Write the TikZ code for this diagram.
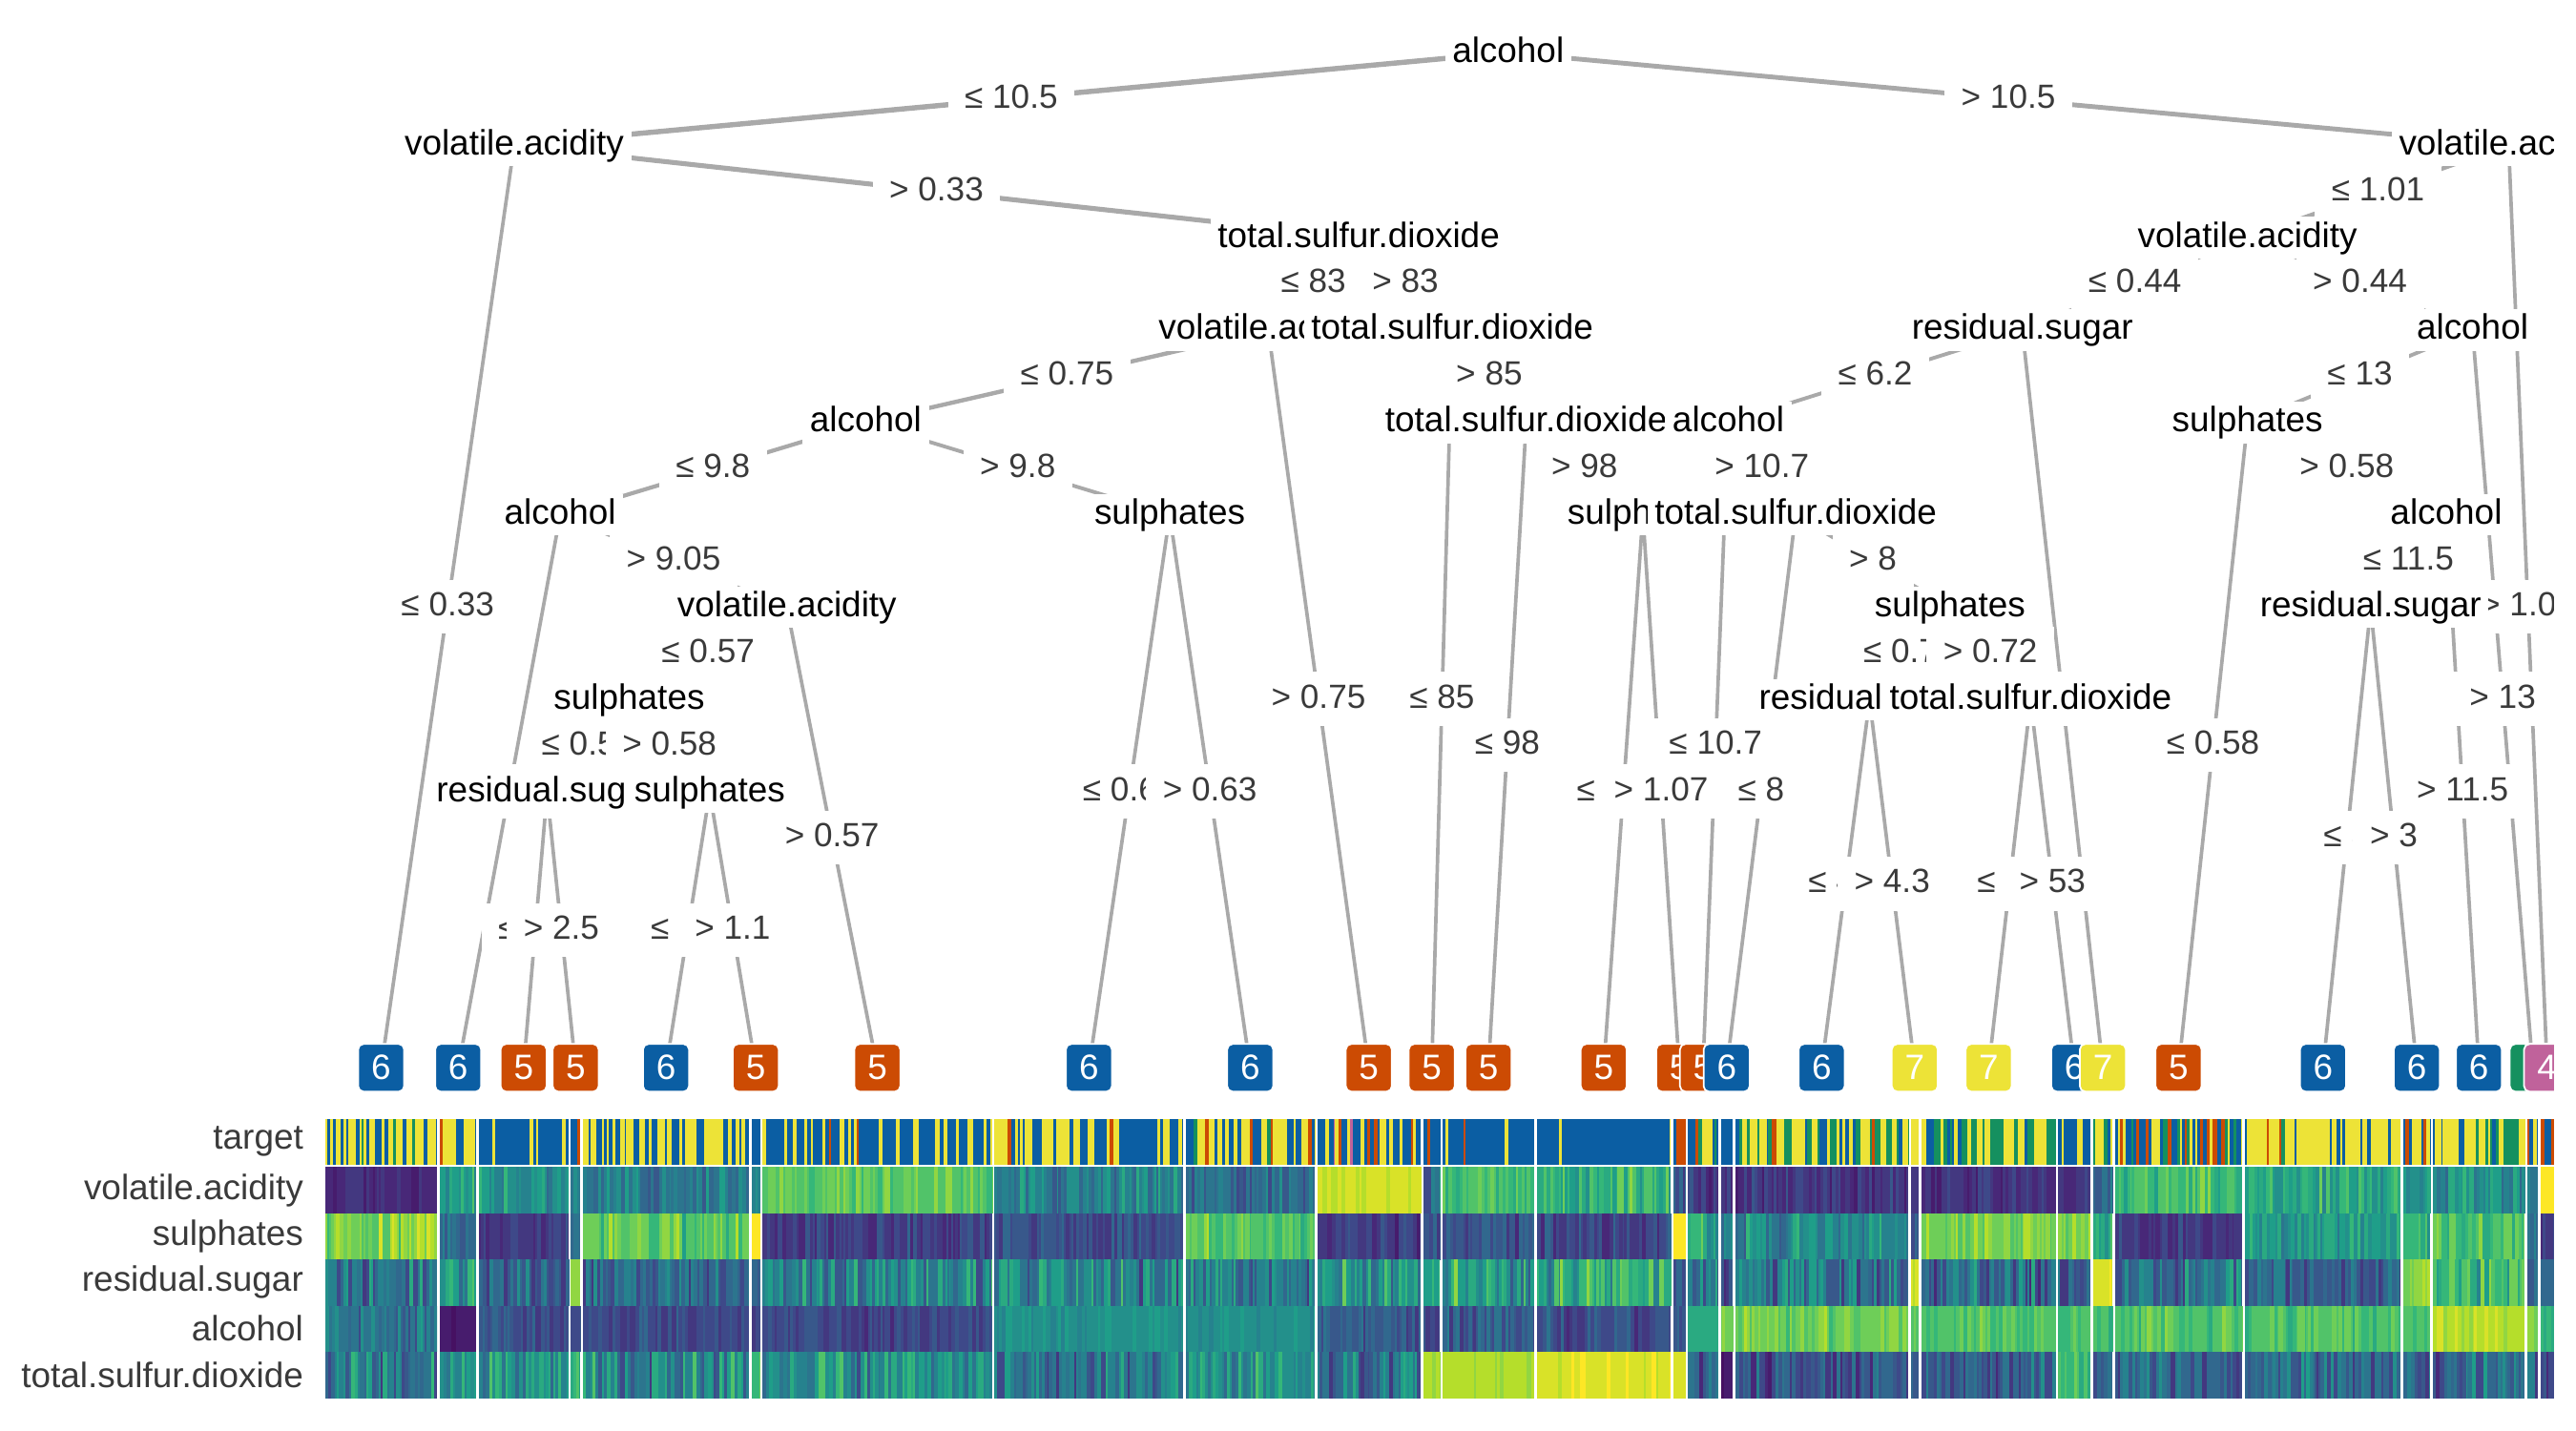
\documentclass[tikz,border=0pt]{standalone}
\usepackage{fontspec}
\setmainfont{Liberation Sans}
\pgfdeclarelayer{edges}
\pgfdeclarelayer{labels}
\pgfsetlayers{edges,labels,main}
\definecolor{edgegray}{HTML}{A9A9A9}
\definecolor{labgray}{HTML}{3A3A3A}
\definecolor{cB}{HTML}{0B5EA3}
\definecolor{cO}{HTML}{CC4B03}
\definecolor{cY}{HTML}{EDE337}
\definecolor{cG}{HTML}{15905F}
\definecolor{cP}{HTML}{C0629B}
\colorlet{tc0}{cB}\colorlet{tc1}{cY}\colorlet{tc2}{cG}\colorlet{tc3}{cO}\colorlet{tc4}{cP}
\definecolor{va0}{HTML}{440154}
\definecolor{va1}{HTML}{482878}
\definecolor{va2}{HTML}{3E4989}
\definecolor{va3}{HTML}{31688E}
\definecolor{va4}{HTML}{26828E}
\definecolor{va5}{HTML}{1F9E89}
\definecolor{va6}{HTML}{35B779}
\definecolor{va7}{HTML}{6ECE58}
\definecolor{va8}{HTML}{B5DE2B}
\definecolor{va9}{HTML}{FDE725}
\colorlet{vir0}{va0!60!va1}\colorlet{vir1}{va0!30!va1}\colorlet{vir2}{va1}\colorlet{vir3}{va1!50!va2}
\colorlet{vir4}{va2}\colorlet{vir5}{va2!50!va3}\colorlet{vir6}{va3}\colorlet{vir7}{va3!50!va4}
\colorlet{vir8}{va4}\colorlet{vir9}{va4!50!va5}\colorlet{vir10}{va5}\colorlet{vir11}{va5!50!va6}
\colorlet{vir12}{va6}\colorlet{vir13}{va6!50!va7}\colorlet{vir14}{va7}\colorlet{vir15}{va7!50!va8}
\colorlet{vir16}{va8}\colorlet{vir17}{va8!50!va9}\colorlet{vir18}{va9}
\tikzset{
  tn/.style={fill=white, inner xsep=2.2pt, inner ysep=1.2pt, text height=7.8pt, text depth=2.1pt,
    font=\fontsize{10.5}{12}\selectfont, text=black},
  el/.style={fill=white, inner xsep=5pt, inner ysep=3.3pt, text height=7.4pt, text depth=2pt,
    font=\fontsize{10}{11}\selectfont, text=labgray},
  leaf/.style={fill=#1, draw=white, line width=0.5pt, rounded corners=1.6pt, minimum width=0.482cm,
    minimum height=0.499cm, inner sep=0pt, text=white, font=\fontsize{10.5}{12}\selectfont},
  ed/.style={draw=edgegray, line width=#1pt},
  rowlab/.style={anchor=east, text=labgray, font=\fontsize{10.5}{12}\selectfont, inner sep=0pt}
}
\newcommand\hseg[2]{\pgfmathsetmacro\sx{#1+0.8}\pgfmathsetmacro\sy{#2-0.8}}
\newcommand\feat[3]{%
  \let\hx\sx
  \loop
    \pgfmathsetmacro\hw{1.0+1.6*rnd}%
    \pgfmathsetmacro\hn{min(\hx+\hw,\sy)}%
    \pgfmathsetmacro\hv{#2+#3*(rnd+rnd-1)}%
    \pgfmathtruncatemacro\hi{max(0,min(18,round(18*\hv)))}%
    \pgfmathsetmacro\hnn{min(\hn+0.45,\sy)}%
    \fill[fill=vir\hi] (\hx,#1) rectangle (\hnn,#1+28.3);%
    \let\hx\hn
  \ifdim\hx pt<\sy pt\repeat}
\newcommand\tgt[4]{%
  \let\hx\sx
  \loop
    \pgfmathsetmacro\hw{1.0+1.6*rnd}%
    \pgfmathsetmacro\hn{min(\hx+\hw,\sy)}%
    \pgfmathsetmacro\hr{rnd}%
    \pgfmathtruncatemacro\hi{(\hr>#1)+(\hr>#2)+(\hr>#3)+(\hr>#4)}%
    \pgfmathsetmacro\hnn{min(\hn+0.45,\sy)}%
    \fill[fill=tc\hi] (\hx,681) rectangle (\hnn,709);%
    \let\hx\hn
  \ifdim\hx pt<\sy pt\repeat}
\begin{document}
\begin{tikzpicture}[x=0.017219cm, y=-0.017219cm]
\pgfmathsetseed{4242}
\useasboundingbox (0,0) rectangle (1568,871.1);
\begin{scope}
\clip (0,0) rectangle (1554.5,871.1);
% ---------- internal nodes ----------
\node[tn] (N0) at (918,32) {alcohol};
\node[tn] (N1) at (313,88.3) {volatile.acidity};
\node[tn] (N2) at (827,144.6) {total.sulfur.dioxide};
\node[tn] (N3) at (772,200.9) {volatile.acidity};
\node[tn] (N4) at (884,200.9) {total.sulfur.dioxide};
\node[tn] (N5) at (527,257.2) {alcohol};
\node[tn] (N6) at (341,313.5) {alcohol};
\node[tn] (N7) at (479,369.8) {volatile.acidity};
\node[tn] (N8) at (383,426.1) {sulphates};
\node[tn] (N9) at (333,482.4) {residual.sugar};
\node[tn] (N10) at (432,482.4) {sulphates};
\node[tn] (N11) at (712,313.5) {sulphates};
\node[tn] (N12) at (929,257.2) {total.sulfur.dioxide};
\node[tn] (N13) at (1000,313.5) {sulphates};
\node[tn] (R1) at (1527,88.3) {volatile.acidity};
\node[tn] (R2) at (1368,144.6) {volatile.acidity};
\node[tn] (R3) at (1231,200.9) {residual.sugar};
\node[tn] (R4) at (1505,200.9) {alcohol};
\node[tn] (R5) at (1052,257.2) {alcohol};
\node[tn] (R6) at (1093,313.5) {total.sulfur.dioxide};
\node[tn] (R7) at (1187,369.8) {sulphates};
\node[tn] (R8) at (1138,426.1) {residual.sugar};
\node[tn] (R9) at (1236,426.1) {total.sulfur.dioxide};
\node[tn] (R10) at (1368,257.2) {sulphates};
\node[tn] (R11) at (1489,313.5) {alcohol};
\node[tn] (R12) at (1443,369.8) {residual.sugar};
% ---------- leaves ----------
\node[leaf=cB] (L1) at (232,650) {6};
\node[leaf=cB] (L2) at (278.9,650) {6};
\node[leaf=cO] (L3) at (318.7,650) {5};
\node[leaf=cO] (L4) at (350.4,650) {5};
\node[leaf=cB] (L5) at (405.4,650) {6};
\node[leaf=cO] (L6) at (460,650) {5};
\node[leaf=cO] (L7) at (534,650) {5};
\node[leaf=cB] (L8) at (662.8,650) {6};
\node[leaf=cB] (L9) at (761,650) {6};
\node[leaf=cO] (L10) at (833.2,650) {5};
\node[leaf=cO] (L11) at (871.5,650) {5};
\node[leaf=cO] (L12) at (906,650) {5};
\node[leaf=cO] (L13) at (976.2,650) {5};
\node[leaf=cO] (L14) at (1022.2,650) {5};
\node[leaf=cO] (L15) at (1036.6,650) {5};
\node[leaf=cB] (L16) at (1051,650) {6};
\node[leaf=cB] (L17) at (1108.8,650) {6};
\node[leaf=cY] (L18) at (1165.5,650) {7};
\node[leaf=cY] (L19) at (1210.5,650) {7};
\node[leaf=cB] (L20) at (1262.6,650) {6};
\node[leaf=cY] (L21) at (1280,650) {7};
\node[leaf=cO] (L22) at (1326.1,650) {5};
\node[leaf=cB] (L23) at (1414,650) {6};
\node[leaf=cB] (L24) at (1471.1,650) {6};
\node[leaf=cB] (L25) at (1508.9,650) {6};
\node[leaf=cG] (L26) at (1541.7,650) {};
\node[leaf=cP] (L27) at (1550.4,650) {4};
% ---------- heatmap ----------
\hseg{197}{267}\tgt{0.30}{0.85}{1}{1}
 \feat{710.5}{.12}{.07}\feat{738.6}{.8}{.18}\feat{766.7}{.4}{.3}\feat{794.8}{.38}{.18}\feat{822.9}{.4}{.3}
\hseg{267}{290.7}\tgt{0.30}{0.90}{0.90}{0.95}
 \feat{710.5}{.55}{.2}\feat{738.6}{.35}{.15}\feat{766.7}{.6}{.3}\feat{794.8}{.05}{.03}\feat{822.9}{.5}{.18}
\hseg{290.7}{346.7}\tgt{0.85}{1}{1}{1}
 \feat{710.5}{.5}{.18}\feat{738.6}{.17}{.1}\feat{766.7}{.3}{.22}\feat{794.8}{.25}{.12}\feat{822.9}{.55}{.28}
\hseg{346.7}{354}\tgt{0.70}{0.85}{0.85}{1}
 \feat{710.5}{.45}{.1}\feat{738.6}{.35}{.1}\feat{766.7}{.85}{.1}\feat{794.8}{.2}{.08}\feat{822.9}{.6}{.15}
\hseg{354}{456.7}\tgt{0.45}{1}{1}{1}
 \feat{710.5}{.4}{.2}\feat{738.6}{.75}{.18}\feat{766.7}{.35}{.25}\feat{794.8}{.22}{.12}\feat{822.9}{.45}{.3}
\hseg{456.7}{463.4}\tgt{0.60}{0.60}{0.60}{1}
 \feat{710.5}{.45}{.1}\feat{738.6}{.98}{.02}\feat{766.7}{.3}{.15}\feat{794.8}{.2}{.08}\feat{822.9}{.7}{.15}
\hseg{463.4}{604.6}\tgt{0.72}{0.96}{0.96}{1}
 \feat{710.5}{.75}{.12}\feat{738.6}{.2}{.14}\feat{766.7}{.45}{.3}\feat{794.8}{.22}{.1}\feat{822.9}{.5}{.28}
\hseg{604.6}{721}\tgt{0.55}{0.95}{0.95}{1}
 \feat{710.5}{.45}{.2}\feat{738.6}{.25}{.12}\feat{766.7}{.45}{.3}\feat{794.8}{.5}{.07}\feat{822.9}{.4}{.25}
\hseg{721}{801}\tgt{0.35}{0.87}{0.97}{1}
 \feat{710.5}{.35}{.2}\feat{738.6}{.75}{.15}\feat{766.7}{.4}{.3}\feat{794.8}{.5}{.06}\feat{822.9}{.5}{.25}
\hseg{801}{865.5}\tgt{0.62}{0.77}{0.77}{0.95}
 \feat{710.5}{.93}{.05}\feat{738.6}{.18}{.12}\feat{766.7}{.5}{.3}\feat{794.8}{.3}{.15}\feat{822.9}{.4}{.3}
\hseg{865.5}{877.4}\tgt{0.85}{0.85}{0.85}{1}
 \feat{710.5}{.4}{.3}\feat{738.6}{.25}{.1}\feat{766.7}{.6}{.15}\feat{794.8}{.2}{.08}\feat{822.9}{.85}{.03}
\hseg{877.4}{934.6}\tgt{0.80}{0.98}{0.98}{1}
 \feat{710.5}{.7}{.15}\feat{738.6}{.25}{.15}\feat{766.7}{.55}{.3}\feat{794.8}{.3}{.15}\feat{822.9}{.88}{.04}
\hseg{934.6}{1017.8}\tgt{0.96}{1}{1}{1}
 \feat{710.5}{.65}{.2}\feat{738.6}{.22}{.15}\feat{766.7}{.6}{.3}\feat{794.8}{.25}{.15}\feat{822.9}{.95}{.05}
\hseg{1017.8}{1026.7}\tgt{0.50}{0.50}{0.50}{1}
 \feat{710.5}{.3}{.15}\feat{738.6}{1}{.02}\feat{766.7}{.3}{.15}\feat{794.8}{.25}{.1}\feat{822.9}{.95}{.04}
\hseg{1026.7}{1046.6}\tgt{0.50}{0.65}{0.80}{1}
 \feat{710.5}{.16}{.1}\feat{738.6}{.6}{.25}\feat{766.7}{.4}{.3}\feat{794.8}{.62}{.02}\feat{822.9}{.3}{.2}
\hseg{1046.6}{1055.5}\tgt{0.50}{1}{1}{1}
 \feat{710.5}{.16}{.08}\feat{738.6}{.4}{.15}\feat{766.7}{.25}{.15}\feat{794.8}{.8}{.05}\feat{822.9}{.05}{.03}
\hseg{1055.5}{1162.2}\tgt{0.15}{0.60}{0.95}{1}
 \feat{710.5}{.16}{.12}\feat{738.6}{.45}{.25}\feat{766.7}{.4}{.3}\feat{794.8}{.78}{.12}\feat{822.9}{.25}{.2}
\hseg{1162.2}{1168.9}\tgt{0}{0.5}{1}{1}
 \feat{710.5}{.16}{.08}\feat{738.6}{.3}{.12}\feat{766.7}{.92}{.05}\feat{794.8}{.7}{.08}\feat{822.9}{.3}{.15}
\hseg{1168.9}{1252}\tgt{0.10}{0.45}{1}{1}
 \feat{710.5}{.14}{.1}\feat{738.6}{.8}{.12}\feat{766.7}{.35}{.3}\feat{794.8}{.72}{.12}\feat{822.9}{.3}{.2}
\hseg{1252}{1273.3}\tgt{0.50}{1}{1}{1}
 \feat{710.5}{.14}{.08}\feat{738.6}{.78}{.1}\feat{766.7}{.3}{.2}\feat{794.8}{.7}{.1}\feat{822.9}{.7}{.15}
\hseg{1273.3}{1286.6}\tgt{0.20}{0.70}{1}{1}
 \feat{710.5}{.3}{.15}\feat{738.6}{.6}{.25}\feat{766.7}{.95}{.04}\feat{794.8}{.7}{.1}\feat{822.9}{.3}{.15}
\hseg{1286.6}{1365.7}\tgt{0.45}{0.65}{0.75}{1}
 \feat{710.5}{.68}{.2}\feat{738.6}{.17}{.1}\feat{766.7}{.4}{.3}\feat{794.8}{.72}{.12}\feat{822.9}{.35}{.25}
\hseg{1365.7}{1462.2}\tgt{0.15}{0.90}{0.95}{1}
 \feat{710.5}{.6}{.2}\feat{738.6}{.55}{.2}\feat{766.7}{.3}{.2}\feat{794.8}{.72}{.12}\feat{822.9}{.35}{.25}
\hseg{1462.2}{1480}\tgt{0.30}{0.80}{0.80}{1}
 \feat{710.5}{.55}{.15}\feat{738.6}{.65}{.15}\feat{766.7}{.85}{.1}\feat{794.8}{.7}{.1}\feat{822.9}{.35}{.2}
\hseg{1480}{1537.7}\tgt{0.20}{0.65}{1}{1}
 \feat{710.5}{.5}{.2}\feat{738.6}{.7}{.15}\feat{766.7}{.7}{.25}\feat{794.8}{.9}{.08}\feat{822.9}{.35}{.25}
\hseg{1537.7}{1545.7}\tgt{0.40}{0.70}{0.70}{1}
 \feat{710.5}{.4}{.1}\feat{738.6}{.35}{.1}\feat{766.7}{.3}{.15}\feat{794.8}{.8}{.08}\feat{822.9}{.3}{.15}
\hseg{1545.7}{1556}\tgt{0.30}{0.30}{0.30}{0.80}
 \feat{710.5}{1}{.02}\feat{738.6}{.17}{.08}\feat{766.7}{.35}{.15}\feat{794.8}{.65}{.05}\feat{822.9}{.2}{.1}
\end{scope}
% ---------- row labels ----------
\node[rowlab] (rl1) at (185,695) {target};
\node[rowlab] (rl2) at (185,724.5) {volatile.acidity};
\node[rowlab] (rl3) at (185,752.6) {sulphates};
\node[rowlab] (rl4) at (185,780.7) {residual.sugar};
\node[rowlab] (rl5) at (185,808.8) {alcohol};
\node[rowlab] (rl6) at (185,836.9) {total.sulfur.dioxide};
% ---------- connectors ----------
\begin{pgfonlayer}{edges}
\draw[ed=1.55] (N0.center) -- (N1.center);
\draw[ed=1.4] (N0.center) -- (R1.center);
\draw[ed=1.05] (N1.center) -- (L1.center);
\draw[ed=1.45] (N1.center) -- (N2.center);
\draw[ed=1.3] (N2.center) -- (N3.center);
\draw[ed=1.1] (N2.center) -- (N4.center);
\draw[ed=1.25] (N3.center) -- (N5.center);
\draw[ed=1.05] (N3.center) -- (L10.center);
\draw[ed=1.05] (N4.center) -- (L11.center);
\draw[ed=1.1] (N4.center) -- (N12.center);
\draw[ed=1.2] (N5.center) -- (N6.center);
\draw[ed=1.1] (N5.center) -- (N11.center);
\draw[ed=1.05] (N6.center) -- (L2.center);
\draw[ed=1.1] (N6.center) -- (N7.center);
\draw[ed=1.1] (N7.center) -- (N8.center);
\draw[ed=1.05] (N7.center) -- (L7.center);
\draw[ed=1.05] (N8.center) -- (N9.center);
\draw[ed=1.05] (N8.center) -- (N10.center);
\draw[ed=1.05] (N9.center) -- (L3.center);
\draw[ed=1.05] (N9.center) -- (L4.center);
\draw[ed=1.05] (N10.center) -- (L5.center);
\draw[ed=1.05] (N10.center) -- (L6.center);
\draw[ed=1.05] (N11.center) -- (L8.center);
\draw[ed=1.05] (N11.center) -- (L9.center);
\draw[ed=1.05] (N12.center) -- (L12.center);
\draw[ed=1.05] (N12.center) -- (N13.center);
\draw[ed=1.05] (N13.center) -- (L13.center);
\draw[ed=1.05] (N13.center) -- (L14.center);
\draw[ed=1.25] (R1.center) -- (R2.center);
\draw[ed=1.05] (R1.center) -- (L27.center);
\draw[ed=1.1] (R2.center) -- (R3.center);
\draw[ed=1.1] (R2.center) -- (R4.center);
\draw[ed=1.1] (R3.center) -- (R5.center);
\draw[ed=1.05] (R3.center) -- (L21.center);
\draw[ed=1.05] (R5.center) -- (L15.center);
\draw[ed=1.1] (R5.center) -- (R6.center);
\draw[ed=1.05] (R6.center) -- (L16.center);
\draw[ed=1.1] (R6.center) -- (R7.center);
\draw[ed=1.05] (R7.center) -- (R8.center);
\draw[ed=1.05] (R7.center) -- (R9.center);
\draw[ed=1.05] (R8.center) -- (L17.center);
\draw[ed=1.05] (R8.center) -- (L18.center);
\draw[ed=1.05] (R9.center) -- (L19.center);
\draw[ed=1.05] (R9.center) -- (L20.center);
\draw[ed=1.1] (R4.center) -- (R10.center);
\draw[ed=1.05] (R4.center) -- (L26.center);
\draw[ed=1.05] (R10.center) -- (L22.center);
\draw[ed=1.1] (R10.center) -- (R11.center);
\draw[ed=1.05] (R11.center) -- (R12.center);
\draw[ed=1.05] (R11.center) -- (L25.center);
\draw[ed=1.05] (R12.center) -- (L23.center);
\draw[ed=1.05] (R12.center) -- (L24.center);
\end{pgfonlayer}
% ---------- connector labels ----------
\begin{pgfonlayer}{labels}
\begin{scope}
\clip (0,0) rectangle (1554.5,871.1);
\path (N0.center) -- (N1.center) node[el,midway] (e1) {≤ 10.5};
\path (N0.center) -- (R1.center) node[el,midway] (e2) {> 10.5};
\path (N1.center) -- (L1.center) node[el,midway] (e3) {≤ 0.33};
\path (N1.center) -- (N2.center) node[el,midway] (e4) {> 0.33};
\path (N2.center) -- (N3.center) node[el,midway] (e5) {≤ 83};
\path (N2.center) -- (N4.center) node[el,midway] (e6) {> 83};
\path (N3.center) -- (N5.center) node[el,midway] (e7) {≤ 0.75};
\path (N3.center) -- (L10.center) node[el,midway] (e8) {> 0.75};
\path (N4.center) -- (L11.center) node[el,midway] (e9) {≤ 85};
\path (N4.center) -- (N12.center) node[el,midway] (e10) {> 85};
\path (N5.center) -- (N6.center) node[el,midway] (e11) {≤ 9.8};
\path (N5.center) -- (N11.center) node[el,midway] (e12) {> 9.8};
\path (N6.center) -- (L2.center) node[el,midway] (e13) {≤ 9.05};
\path (N6.center) -- (N7.center) node[el,midway] (e14) {> 9.05};
\path (N7.center) -- (N8.center) node[el,midway] (e15) {≤ 0.57};
\path (N7.center) -- (L7.center) node[el,midway] (e16) {> 0.57};
\path (N8.center) -- (N9.center) node[el,midway] (e17) {≤ 0.58};
\path (N8.center) -- (N10.center) node[el,midway] (e18) {> 0.58};
\path (N9.center) -- (L3.center) node[el,midway] (e19) {≤ 2.5};
\path (N9.center) -- (L4.center) node[el,midway] (e20) {> 2.5};
\path (N10.center) -- (L5.center) node[el,midway] (e21) {≤ 1.1};
\path (N10.center) -- (L6.center) node[el,midway] (e22) {> 1.1};
\path (N11.center) -- (L8.center) node[el,midway] (e23) {≤ 0.63};
\path (N11.center) -- (L9.center) node[el,midway] (e24) {> 0.63};
\path (N12.center) -- (L12.center) node[el,midway] (e25) {≤ 98};
\path (N12.center) -- (N13.center) node[el,midway] (e26) {> 98};
\path (N13.center) -- (L13.center) node[el,midway] (e27) {≤ 1.07};
\path (N13.center) -- (L14.center) node[el,midway] (e28) {> 1.07};
\path (R1.center) -- (R2.center) node[el,midway] (e29) {≤ 1.01};
\path (R1.center) -- (L27.center) node[el,midway] (e30) {> 1.01};
\path (R2.center) -- (R3.center) node[el,midway] (e31) {≤ 0.44};
\path (R2.center) -- (R4.center) node[el,midway] (e32) {> 0.44};
\path (R3.center) -- (R5.center) node[el,midway] (e33) {≤ 6.2};
\path (R3.center) -- (L21.center) node[el,midway] (e34) {> 6.2};
\path (R5.center) -- (L15.center) node[el,midway] (e35) {≤ 10.7};
\path (R5.center) -- (R6.center) node[el,midway] (e36) {> 10.7};
\path (R6.center) -- (L16.center) node[el,midway] (e37) {≤ 8};
\path (R6.center) -- (R7.center) node[el,midway] (e38) {> 8};
\path (R7.center) -- (R8.center) node[el,midway] (e39) {≤ 0.72};
\path (R7.center) -- (R9.center) node[el,midway] (e40) {> 0.72};
\path (R8.center) -- (L17.center) node[el,midway] (e41) {≤ 4.3};
\path (R8.center) -- (L18.center) node[el,midway] (e42) {> 4.3};
\path (R9.center) -- (L19.center) node[el,midway] (e43) {≤ 53};
\path (R9.center) -- (L20.center) node[el,midway] (e44) {> 53};
\path (R4.center) -- (R10.center) node[el,midway] (e45) {≤ 13};
\path (R4.center) -- (L26.center) node[el,midway] (e46) {> 13};
\path (R10.center) -- (L22.center) node[el,midway] (e47) {≤ 0.58};
\path (R10.center) -- (R11.center) node[el,midway] (e48) {> 0.58};
\path (R11.center) -- (R12.center) node[el,midway] (e49) {≤ 11.5};
\path (R11.center) -- (L25.center) node[el,midway] (e50) {> 11.5};
\path (R12.center) -- (L23.center) node[el,midway] (e51) {≤ 3};
\path (R12.center) -- (L24.center) node[el,midway] (e52) {> 3};
\end{scope}
\end{pgfonlayer}
\end{tikzpicture}
\end{document}
